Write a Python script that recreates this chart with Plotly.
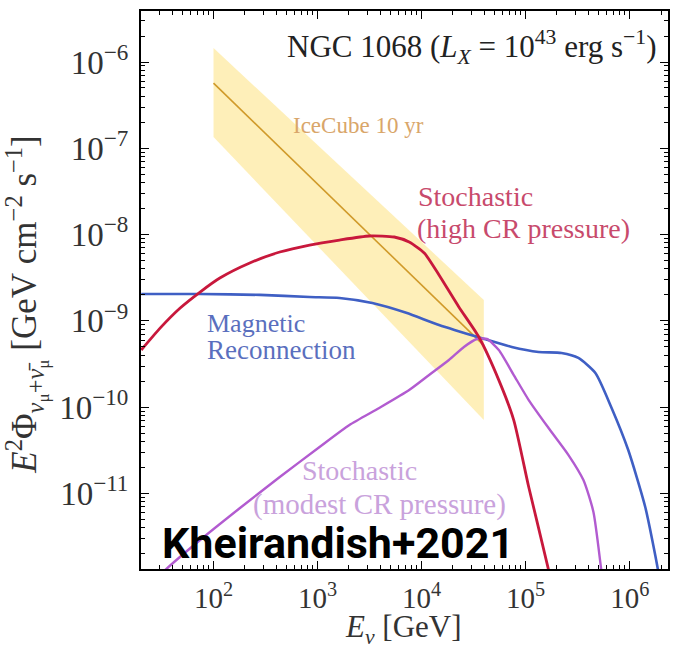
import plotly.graph_objects as go

# IceCube 10-yr fit for NGC 1068 and its 1-sigma band (E^2 Phi, GeV cm^-2 s^-1)
icecube_e = [1e2, 3.96e4]
icecube_fit = [5.7e-7, 5.2e-10]
icecube_hi = [1.45e-6, 1.75e-9]
icecube_lo = [1.35e-7, 7.1e-11]

# Stochastic acceleration, high CR pressure
high_e = [20.2, 30.8, 47.8, 74.3, 115, 223, 433, 838, 1626, 3150, 5460, 7590,
          1.06e4, 1.47e4, 2.28e4, 3.55e4, 5.52e4, 7.68e4, 1.07e5, 1.66e5, 1.9e5]
high_y = [4.6e-10, 8.3e-10, 1.41e-9, 2.16e-9, 3.14e-9, 4.69e-9, 6.28e-9, 7.57e-9, 8.65e-9, 9.63e-9, 9.38e-9, 8.2e-9,
          6.12e-9, 3.4e-9, 1.45e-9, 6.5e-10, 2.06e-10, 7.1e-11, 1.19e-11, 1.3e-12, 5.8e-13]

# Magnetic reconnection
rec_e = [20.2, 74.3, 279, 838, 1626, 3360, 7110, 1.47e4, 3.79e4, 7.35e4, 1.33e5, 2.21e5,
         3.21e5, 4.68e5, 6.65e5, 9.68e5, 1.41e6, 1.87e6, 2.05e6]
rec_y = [2.05e-9, 2.05e-9, 2.0e-9, 1.89e-9, 1.84e-9, 1.61e-9, 1.24e-9, 8.97e-10, 6.3e-10, 4.99e-10, 4.37e-10, 4.25e-10,
         3.72e-10, 2.49e-10, 1.0e-10, 3.19e-11, 6.98e-12, 1.3e-12, 5.8e-13]

# Stochastic acceleration, modest CR pressure
mod_e = [24.7, 34.4, 74.3, 179.6, 433, 1045, 2023, 3917, 7590, 1.18e4, 1.83e4, 2.55e4, 3.4e4, 4.24e4,
         5.52e4, 7.68e4, 1.07e5, 1.66e5, 2.58e5, 3.59e5, 4.48e5, 5.33e5, 5.82e5]
mod_y = [8.7e-13, 1.3e-12, 2.89e-12, 6.79e-12, 1.55e-11, 3.46e-11, 6.22e-11, 9.8e-11, 1.58e-10, 2.36e-10, 3.52e-10,
         4.99e-10, 6.17e-10, 6.17e-10, 4.6e-10, 2.36e-10, 1.21e-10, 5.74e-11, 2.79e-11, 1.43e-11, 6.1e-12, 1.3e-12, 5.8e-13]

# Axis ticks
x_major = [1e2, 1e3, 1e4, 1e5, 1e6]
x_major_text = ["10<sup>2</sup>", "10<sup>3</sup>", "10<sup>4</sup>", "10<sup>5</sup>", "10<sup>6</sup>"]
y_major = [1e-11, 1e-10, 1e-9, 1e-8, 1e-7, 1e-6]
y_major_text = ["10<sup>−11</sup>", "10<sup>−10</sup>", "10<sup>−9</sup>",
                "10<sup>−8</sup>", "10<sup>−7</sup>", "10<sup>−6</sup>"]
x_minor = [m * 10 ** k for k in range(1, 7) for m in range(2, 10)]
y_minor = [m * 10 ** k for k in range(-12, -5) for m in range(2, 10)]

SERIF = "Liberation Serif, Times New Roman, serif"
CURVE = dict(shape="spline", smoothing=0.6)
NB = "\u00a0"

fig = go.Figure()

# IceCube band (upper edge then lower edge reversed, closed polygon)
fig.add_trace(go.Scatter(
    x=icecube_e + icecube_e[::-1],
    y=icecube_hi + icecube_lo[::-1],
    fill="toself", fillcolor="rgba(253,226,128,0.55)",
    line=dict(width=0), mode="lines", hoverinfo="skip", showlegend=False))
fig.add_trace(go.Scatter(x=icecube_e, y=icecube_fit, mode="lines",
                         line=dict(color="#d09a2a", width=1.6), showlegend=False))

fig.add_trace(go.Scatter(x=rec_e, y=rec_y, mode="lines",
                         line=dict(color="#3f5fc4", width=2.6, **CURVE), showlegend=False))
fig.add_trace(go.Scatter(x=mod_e, y=mod_y, mode="lines",
                         line=dict(color="#b25bd0", width=2.4, **CURVE), showlegend=False))
fig.add_trace(go.Scatter(x=high_e, y=high_y, mode="lines",
                         line=dict(color="#c8183c", width=2.8, **CURVE), showlegend=False))

axis_common = dict(
    type="log", showgrid=False, zeroline=False,
    showline=True, linecolor="black", linewidth=2, mirror="allticks",
    ticks="inside", ticklen=8, tickwidth=1.4, tickcolor="black",
)

fig.update_xaxes(
    range=[1.303, 6.368], tickvals=x_major, ticktext=x_major_text,
    tickfont=dict(family=SERIF, size=29, color="#333333"),
    minor=dict(tickvals=x_minor, ticks="inside", ticklen=4, tickwidth=1, tickcolor="black"),
    ticklabelstandoff=2, **axis_common)
fig.update_yaxes(
    range=[-11.875, -5.409], tickvals=y_major, ticktext=y_major_text,
    tickfont=dict(family=SERIF, size=33, color="#333333"),
    minor=dict(tickvals=y_minor, ticks="inside", ticklen=4, tickwidth=1, tickcolor="black"),
    ticklabelstandoff=4, **axis_common)


def label(x, y, text, size, color, anchor="left", family=SERIF, **kw):
    return dict(x=x, y=y, xanchor=anchor, yanchor="middle", text=text,
                font=dict(family=family, size=size, color=color), **kw)


annotations = [
    label(0.981, 0.935,
          f"NGC 1068 (<i>L</i><sub><i>X</i></sub>{NB}={NB}10<sup>43</sup>{NB}erg{NB}s<sup>−1</sup>)",
          31, "#222222", anchor="right"),
    label(0.285, 0.794, "IceCube 10 yr", 23, "#d9a66a"),
    label(0.522, 0.667, "Stochastic", 28, "#c84a6c"),
    label(0.520, 0.611, "(high CR pressure)", 28, "#c84a6c"),
    label(0.121, 0.440, "Magnetic", 26, "#5a6fbe"),
    label(0.121, 0.392, "Reconnection", 27, "#5a6fbe"),
    label(0.414, 0.176, "Stochastic", 28, "#c9a2dc", anchor="center"),
    label(0.452, 0.115, "(modest CR pressure)", 29, "#c9a2dc", anchor="center"),
    label(0.036, 0.047, "<b>Kheirandish+2021</b>", 43, "black",
          family="Liberation Sans Narrow, Roboto, sans-serif"),
    # axis titles
    label(0.499, -0.107, "<i>E</i><sub><i>ν</i></sub> [GeV]", 31, "#333333", anchor="center"),
    label(-0.219, 0.473,
          f"<i>E</i><sup>2</sup>Φ<sub><i>ν</i><sub>μ</sub>+<i>ν̄</i><sub>μ</sub></sub>{NB}[GeV{NB}cm<sup>−2</sup>{NB}s<sup>−1</sup>]",
          35, "#333333", anchor="center", textangle=-90),
]
for a in annotations:
    a.update(xref="paper", yref="paper", showarrow=False)

fig.update_layout(
    width=674, height=648,
    margin=dict(l=141, r=4, t=11, b=79),
    paper_bgcolor="white", plot_bgcolor="white",
    annotations=annotations,
)

fig.write_html("out.html")
